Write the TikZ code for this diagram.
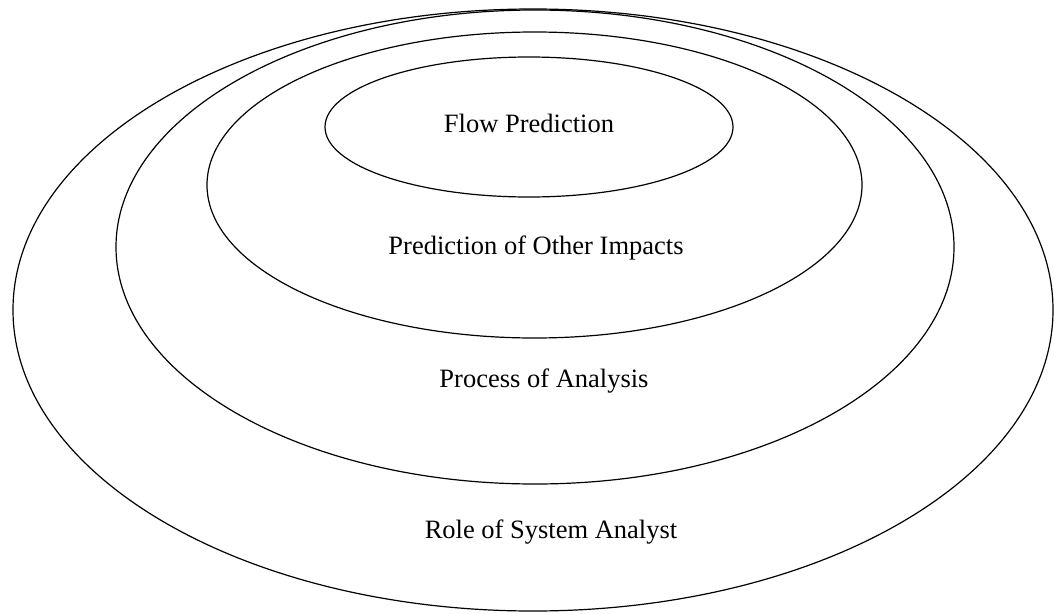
\documentclass[tikz,border=0pt]{standalone}
\usepackage{fontspec}
\setmainfont{Liberation Serif}
\usetikzlibrary{shapes.geometric}
\begin{document}
\begin{tikzpicture}[x=1pt,y=-1pt,
  ring/.style={draw=black,line width=1.2pt},
  lbl/.style={font=\fontsize{26.5}{30}\selectfont,inner sep=0pt}]
\useasboundingbox (0,0) rectangle (1054,613);
\draw[ring] (533,310) ellipse [x radius=520, y radius=301];
\draw[ring] (535,247) ellipse [x radius=419, y radius=237];
\draw[ring] (534.5,185) ellipse [x radius=327.5, y radius=153];
\draw[ring] (529,127) ellipse [x radius=204, y radius=70];
\node[lbl] (flow) at (529,123) {Flow Prediction};
\node[lbl] (other) at (536,248) {Prediction of Other Impacts};
\node[lbl] (proc) at (544,381) {Process of Analysis};
\node[lbl] (role) at (551,532) {Role of System Analyst};
\end{tikzpicture}
\end{document}
